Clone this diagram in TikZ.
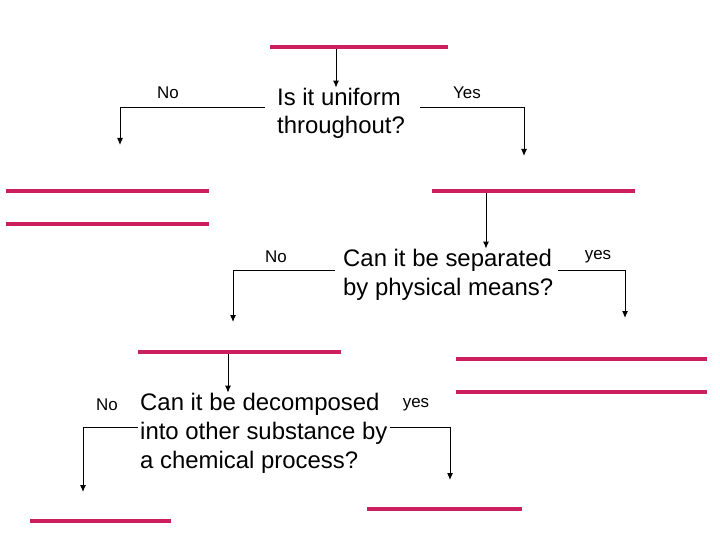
\documentclass[tikz,border=0pt]{standalone}
\usepackage{fontspec}
\setmainfont{Liberation Sans}
\usetikzlibrary{arrows.meta,positioning,calc}
\definecolor{blankPink}{HTML}{CC1F60}
\newcommand{\qfont}{\fontsize{24}{29}\selectfont}
\newcommand{\lblfont}{\fontsize{17}{20}\selectfont}

\begin{document}
\begin{tikzpicture}[x=1bp,y=-1bp,
    blank/.style={fill=blankPink,inner sep=0pt,minimum height=4bp},
    question/.style={font=\qfont,align=left,inner sep=0pt,anchor=base west},
    answer/.style={font=\lblfont,inner sep=0pt,anchor=base},
    arr/.style={line width=1bp,-{Latex[length=7bp,width=6bp]}}]
  \useasboundingbox (0,0) rectangle (720,540);
  % fill-in blanks
  \node[blank,minimum width=178bp] (b1) at (359,47) {};
  \node[blank,minimum width=203bp] (b2a) at (107.5,191) {};
  \node[blank,minimum width=203bp] (b2b) at (107.5,224) {};
  \node[blank,minimum width=203bp] (b3) at (533.5,191) {};
  \node[blank,minimum width=203bp] (b4) at (239.5,352) {};
  \node[blank,minimum width=251bp] (b5a) at (581,359) {};
  \node[blank,minimum width=251bp] (b5b) at (581,392) {};
  \node[blank,minimum width=141bp] (b6) at (100.5,521) {};
  \node[blank,minimum width=155bp] (b7) at (444.5,509) {};
  % questions (anchored on the last line)
  \node[question] (q1) at (277,134) {Is it uniform\\throughout?};
  \node[question] (q2) at (343,295) {Can it be separated\\by physical means?};
  \node[question] (q3) at (140,468) {Can it be decomposed\\into other substance by\\a chemical process?};
  % answers
  \node[answer] (no1) at (168,99) {No};
  \node[answer] (yes1) at (467,99) {Yes};
  \node[answer] (no2) at (276,263) {No};
  \node[answer] (yes2) at (598,260) {yes};
  \node[answer] (no3) at (107,410) {No};
  \node[answer] (yes3) at (416,407) {yes};
  % arrow ends
  \coordinate (e1) at (120,145);
  \coordinate (e2) at (524,156);
  \coordinate (e3) at (233,322);
  \coordinate (e4) at (625,318);
  \coordinate (e5) at (83,492);
  \coordinate (e6) at (450,480);
  % connectors
  \draw[arr] ($(b1.south)+(-23,0)$) coordinate (s1) -- (s1 |- q1.north);
  \draw[arr] ($(b3.south)+(-47.5,0)$) coordinate (s2) -- (s2 |- q2.north);
  \draw[arr] ($(b4.south)+(-11.5,0)$) coordinate (s3) -- (s3 |- q3.north);
  \draw[arr] ($(q1.west |- 0,108)+(-12,0)$) -| (e1);
  \draw[arr] ($(q1.east |- 0,108)+(15,0)$) -| (e2);
  \draw[arr] ($(q2.west |- 0,270)+(-8,0)$) -| (e3);
  \draw[arr] ($(q2.east |- 0,270)+(5,0)$) -| (e4);
  \draw[arr] ($(q3.west |- 0,427)+(-2,0)$) -| (e5);
  \draw[arr] ($(q3.east |- 0,427)+(2,0)$) -| (e6);
\end{tikzpicture}
\end{document}
